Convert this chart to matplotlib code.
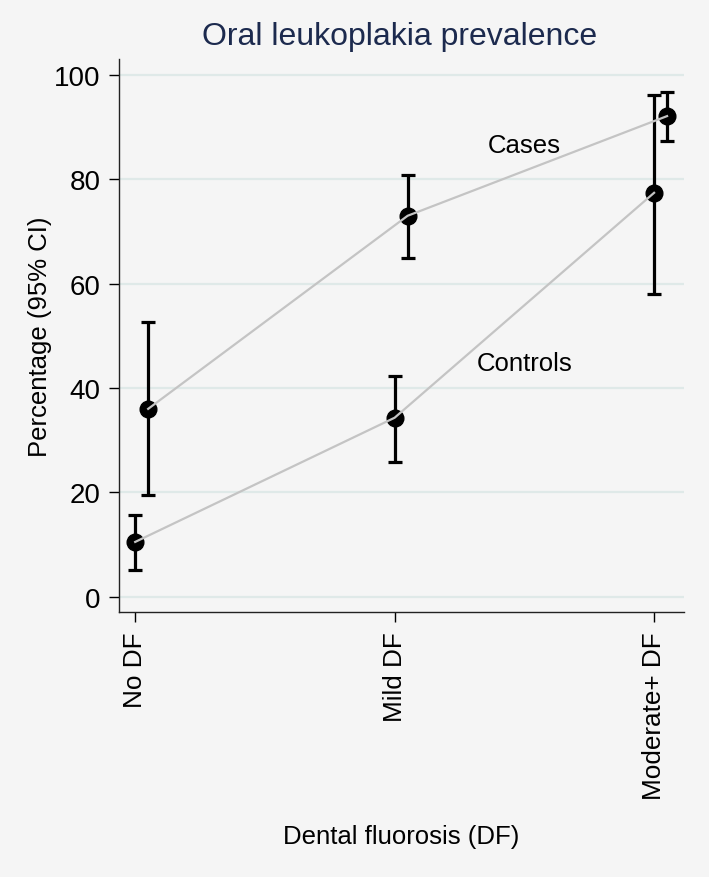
import matplotlib
matplotlib.use("Agg")
import matplotlib.pyplot as plt
import numpy as np

plt.rcParams['font.family'] = ['Liberation Sans', 'DejaVu Sans']

categories = ["No DF", "Mild DF", "Moderate+ DF"]
cases = [36.0, 73.0, 92.1]
cases_lo = [19.5, 64.9, 87.4]
cases_hi = [52.7, 80.9, 96.7]
controls = [10.5, 34.3, 77.4]
controls_lo = [5.2, 25.9, 58.1]
controls_hi = [15.7, 42.3, 96.2]
yticks = [0, 20, 40, 60, 80, 100]

bg = '#f5f5f5'
fig = plt.figure(figsize=(7.09, 8.78), dpi=100, facecolor=bg)
ax = fig.add_axes([0.168, 0.302, 0.797, 0.630], facecolor=bg)

x = np.arange(len(categories))
xc = x + 0.05

for xs, v, lo, hi in [(x, controls, controls_lo, controls_hi), (xc, cases, cases_lo, cases_hi)]:
    v = np.array(v); lo = np.array(lo); hi = np.array(hi)
    ax.errorbar(xs, v, yerr=[v - lo, hi - v], fmt='o', color='black', ms=12,
                elinewidth=2.3, capsize=5, capthick=2.3, zorder=3)
    ax.plot(xs, v, color='#c4c4c4', lw=1.6, zorder=4)

ax.text(1.5, 86.6, "Cases", fontsize=18.5, ha='center', va='center')
ax.text(1.5, 44.8, "Controls", fontsize=18.5, ha='center', va='center')

ax.set_xlim(-0.062, 2.116)
ax.set_ylim(-2.9, 103.1)
ax.set_yticks(yticks)
ax.set_xticks(x)
ax.set_xticklabels(categories, rotation=90, fontsize=18.8)
ax.tick_params(axis='y', labelsize=20, length=7.5, width=1, pad=6)
ax.tick_params(axis='x', length=7, width=1, pad=7)
for yy in yticks:
    ax.axhline(yy, color='#dfe9e8', lw=1.6, zorder=0)

for s in ['top', 'right']:
    ax.spines[s].set_visible(False)
for s in ['left', 'bottom']:
    ax.spines[s].set_linewidth(1.0)
    ax.spines[s].set_color('#222222')

ax.set_ylabel("Percentage (95% CI)", fontsize=18.5, labelpad=1)
ax.set_xlabel("Dental fluorosis (DF)", fontsize=18.5, labelpad=18)
fig.text(0.564, 0.958, "Oral leukoplakia prevalence", fontsize=23, color='#1c2a4e',
         ha='center', va='center')

fig.savefig("out.png", dpi=100, facecolor=bg)
